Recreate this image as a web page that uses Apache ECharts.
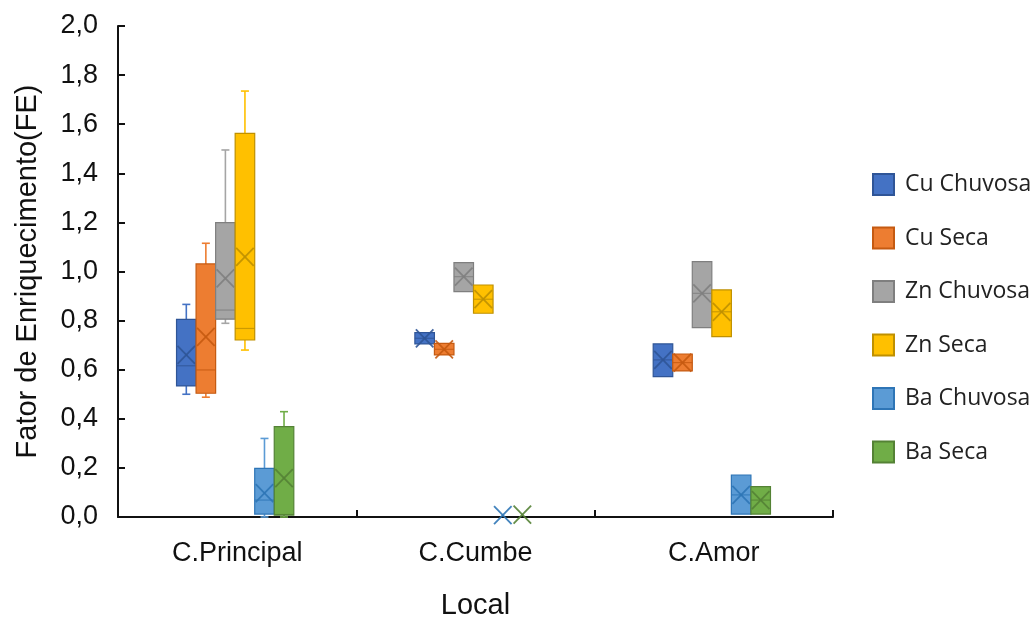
<!DOCTYPE html>
<html>
<head>
<meta charset="utf-8">
<script src="https://cdn.jsdelivr.net/npm/echarts@6/dist/echarts.min.js"></script>
<style>
html,body{margin:0;padding:0;background:#fff;}
#chart{width:1035px;height:619px;}
</style>
</head>
<body>
<div id="chart"></div>
<script>
// Categories (sites)
const categories = ['C.Principal', 'C.Cumbe', 'C.Amor'];
// Y tick labels
const yTicks = ['0,0','0,2','0,4','0,6','0,8','1,0','1,2','1,4','1,6','1,8','2,0'];
// Each entry: [min, q1, median, q3, max, mean] per category
const cuChuvosa = [[0.50, 0.534, 0.616, 0.805, 0.866, 0.66], [0.705, 0.705, 0.728, 0.751, 0.751, 0.728], [0.572, 0.572, 0.64, 0.705, 0.705, 0.64]];
const cuSeca    = [[0.488, 0.504, 0.599, 1.031, 1.115, 0.734], [0.66, 0.66, 0.683, 0.707, 0.707, 0.683], [0.595, 0.595, 0.629, 0.664, 0.664, 0.629]];
const znChuvosa = [[0.789, 0.806, 0.843, 1.199, 1.495, 0.972], [0.918, 0.918, 0.979, 1.036, 1.036, 0.979], [0.771, 0.771, 0.911, 1.040, 1.040, 0.911]];
const znSeca    = [[0.680, 0.721, 0.768, 1.563, 1.735, 1.060], [0.830, 0.830, 0.887, 0.945, 0.945, 0.887], [0.735, 0.735, 0.836, 0.925, 0.925, 0.836]];
const baChuvosa = [[0.0, 0.012, 0.069, 0.198, 0.320, 0.097], [0.008, 0.008, 0.008, 0.008, 0.008, 0.008], [0.012, 0.012, 0.09, 0.171, 0.171, 0.09]];
const baSeca    = [[0.0, 0.008, 0.01, 0.368, 0.429, 0.158], [0.01, 0.01, 0.01, 0.01, 0.01, 0.01], [0.012, 0.012, 0.069, 0.124, 0.124, 0.069]];

const seriesNames = ['Cu Chuvosa', 'Cu Seca', 'Zn Chuvosa', 'Zn Seca', 'Ba Chuvosa', 'Ba Seca'];
const seriesData = [cuChuvosa, cuSeca, znChuvosa, znSeca, baChuvosa, baSeca];
const colors = ['#4472C4', '#ED7D31', '#A5A5A5', '#FFC000', '#5B9BD5', '#70AD47'];
const darks  = ['#2F5597', '#C55A11', '#7F7F7F', '#BF9000', '#2E75B6', '#548235'];

const chart = echarts.init(document.getElementById('chart'), null, {renderer: 'canvas'});

function makeRender(si) {
  return function (params, api) {
    const ci = api.value(0);
    const vals = [api.value(1), api.value(2), api.value(3), api.value(4), api.value(5), api.value(6)];
    const band = api.size([1, 0])[0];
    const bw = band * 0.082;
    const center = api.coord([ci, 0])[0] - 2 + (si - 2.5) * bw;
    const y = v => api.coord([ci, v])[1];
    const x0 = center - bw / 2, x1 = center + bw / 2;
    const col = colors[si], dk = darks[si];
    const children = [];
    const capW = 8;
    // whiskers
    if (vals[4] > vals[3]) {
      children.push({type: 'line', shape: {x1: center, y1: y(vals[3]), x2: center, y2: y(vals[4])}, style: {stroke: col, lineWidth: 1.6}});
      children.push({type: 'line', shape: {x1: center - capW / 2, y1: y(vals[4]), x2: center + capW / 2, y2: y(vals[4])}, style: {stroke: col, lineWidth: 1.6}});
    }
    if (vals[1] > vals[0]) {
      children.push({type: 'line', shape: {x1: center, y1: y(vals[1]), x2: center, y2: y(vals[0])}, style: {stroke: col, lineWidth: 1.6}});
      children.push({type: 'line', shape: {x1: center - capW / 2, y1: y(vals[0]), x2: center + capW / 2, y2: y(vals[0])}, style: {stroke: col, lineWidth: 1.6}});
    }
    // box
    const yt = y(vals[3]), yb = y(vals[1]);
    if (yb - yt > 0.5) {
      children.push({type: 'rect', shape: {x: x0, y: yt, width: bw, height: yb - yt}, style: {fill: col, stroke: dk, lineWidth: 1.2}});
      // median
      children.push({type: 'line', shape: {x1: x0, y1: y(vals[2]), x2: x1, y2: y(vals[2])}, style: {stroke: dk, lineWidth: 1.2, opacity: 0.8}});
    }
    // mean X
    const ym = y(vals[5]);
    const h = 9;
    children.push({type: 'line', shape: {x1: x0 + 1, y1: ym - h, x2: x1 - 1, y2: ym + h}, style: {stroke: dk, lineWidth: 1.8, opacity: 0.9}});
    children.push({type: 'line', shape: {x1: x0 + 1, y1: ym + h, x2: x1 - 1, y2: ym - h}, style: {stroke: dk, lineWidth: 1.8, opacity: 0.9}});
    return {type: 'group', children: children};
  };
}

const series = seriesNames.map((name, si) => ({
  name: name,
  type: 'custom',
  renderItem: makeRender(si),
  itemStyle: {color: colors[si], borderColor: darks[si], borderWidth: 1},
  encode: {x: 0, y: [1, 2, 3, 4, 5]},
  data: seriesData[si].map((d, ci) => [ci].concat(d)),
  clip: false,
  z: 3
}));

const option = {
  animation: false,
  backgroundColor: '#fff',
  grid: {left: 118, right: 202, top: 26, bottom: 102, containLabel: false, outerBoundsMode: 'none'},
  legend: {
    orient: 'vertical',
    left: 867,
    top: 168,
    itemWidth: 21,
    itemHeight: 21,
    itemGap: 30.5,
    icon: 'rect',
    textStyle: {fontFamily: 'Open Sans', fontSize: 23, color: '#222', padding: [0, 0, 0, 6]},
    data: seriesNames
  },
  xAxis: {
    type: 'category',
    data: categories,
    boundaryGap: true,
    name: 'Local',
    nameLocation: 'middle',
    nameGap: 74,
    nameTextStyle: {fontFamily: 'Liberation Sans', fontSize: 29, color: '#111'},
    axisLine: {lineStyle: {color: '#111', width: 2}},
    axisTick: {show: true, inside: true, length: 7, lineStyle: {color: '#111', width: 2}},
    axisLabel: {fontFamily: 'Liberation Sans', fontSize: 27, color: '#111', margin: 23},
    splitLine: {show: false}
  },
  yAxis: {
    type: 'value',
    min: 0,
    max: 2,
    interval: 0.2,
    name: 'Fator de Enriquecimento(FE)',
    nameLocation: 'middle',
    nameGap: 76,
    nameTextStyle: {fontFamily: 'Liberation Sans', fontSize: 29, color: '#111'},
    axisLine: {show: true, lineStyle: {color: '#111', width: 2}},
    axisTick: {show: true, inside: true, length: 7, lineStyle: {color: '#111', width: 2}},
    axisLabel: {
      fontFamily: 'Liberation Sans', fontSize: 27, color: '#111', margin: 20,
      formatter: function (v) { return yTicks[Math.round(v / 0.2)]; }
    },
    splitLine: {show: false}
  },
  series: series
};
chart.setOption(option);
</script>
</body>
</html>
